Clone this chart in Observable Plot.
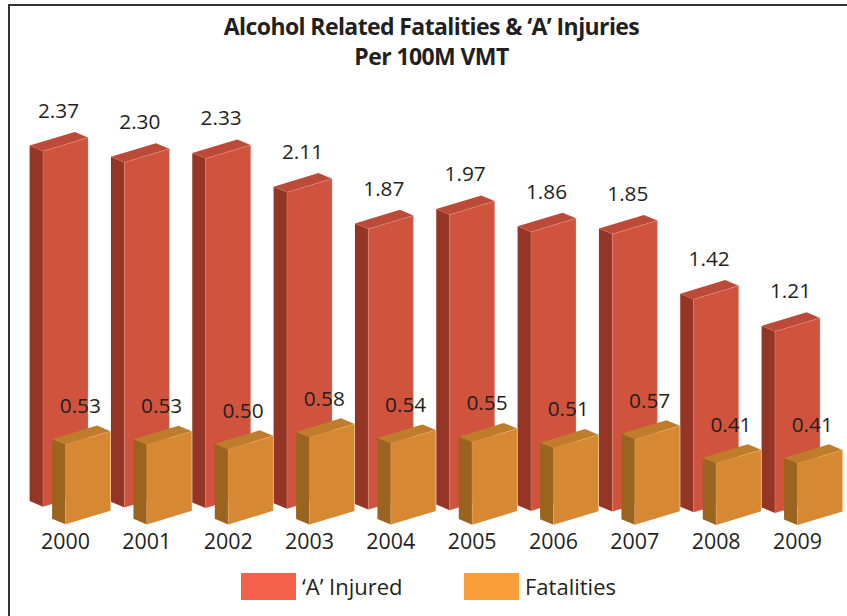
<!DOCTYPE html>
<html>
<head>
<meta charset="utf-8">
<script src="https://cdn.jsdelivr.net/npm/d3@7"></script>
<script src="https://cdn.jsdelivr.net/npm/@observablehq/plot@0.6"></script>
<style>
  html, body { margin: 0; padding: 0; background: #fff; }
  #page { position: relative; width: 847px; height: 616px; overflow: hidden; background: #fff;
          font-family: "Open Sans", sans-serif; color: #231f20; }
  #frame { position: absolute; left: 8px; top: 4px; width: 900px; height: 700px;
           border-left: 2.5px solid #333; border-top: 2.5px solid #333; }
  #title { position: relative; height: 78px; box-sizing: border-box; padding-top: 11px; padding-left: 16px;
           text-align: center; font-weight: 700; font-size: 23px; line-height: 30px; letter-spacing: -0.6px; }
  #plot { position: relative; height: 482px; }
  #plot svg { display: block; }
  #legend { position: absolute; left: 0; top: 573px; height: 27px; width: 847px; font-size: 22px; line-height: 27px; }
  #legend .sw { position: absolute; top: 0; width: 55px; height: 27px; }
  #legend .lb { position: absolute; top: 0; white-space: nowrap; letter-spacing: 0px; }
</style>
</head>
<body>
<div id="page">
  <div id="frame"></div>
  <div id="title">Alcohol Related Fatalities &amp; ‘A’ Injuries<br>Per 100M VMT</div>
  <div id="plot"></div>
  <div id="legend"></div>
</div>
<script>
const years = [2000, 2001, 2002, 2003, 2004, 2005, 2006, 2007, 2008, 2009];
const injured = [2.37, 2.30, 2.33, 2.11, 1.87, 1.97, 1.86, 1.85, 1.42, 1.21];
const fatalities = [0.53, 0.53, 0.50, 0.58, 0.54, 0.55, 0.51, 0.57, 0.41, 0.41];
const seriesNames = ["‘A’ Injured", "Fatalities"];

// oblique projection, pixels per data unit
const UX = 81.33, UY = 150;
const W = 847, H = 482, MB = 30;
const x0px = 65, y0px = 428.7;
const BAR_W = 45, SLOPE = 13.6, DEPTH_X = 13.4, DEPTH_Y = 5.6;

const styleRed = {left: -22.5, base: -0.5, drift: 0.7, front: "#d0533e", side: "#953525", top: "#bc4a38", edge: "#f0a898", labelDx: -7, labelDy: -40};
const styleOrange = {left: 0, base: 17.1, drift: 0.08, front: "#d68833", side: "#9a641f", top: "#bf7d2c", edge: "#f0c080", labelDx: 14.8, labelDy: -38.5};

const P = (year, dx, value, dy) => ({x: year + dx / UX, y: value - dy / UY});

function faces(values, s) {
  const out = {front: [], side: [], top: [], edge: [], labels: []};
  values.forEach((v, i) => {
    const yr = years[i], L = s.left, R = L + BAR_W, B = s.base + s.drift * i;
    const add = (list, pts) => pts.forEach(p => list.push({...p, id: yr}));
    add(out.front, [P(yr, L, 0, B), P(yr, R, 0, B - SLOPE), P(yr, R, v, B - SLOPE), P(yr, L, v, B)]);
    add(out.side, [P(yr, L - DEPTH_X, 0, B - DEPTH_Y), P(yr, L, 0, B), P(yr, L, v, B), P(yr, L - DEPTH_X, v, B - DEPTH_Y)]);
    add(out.top, [P(yr, L - DEPTH_X, v, B - DEPTH_Y), P(yr, L, v, B), P(yr, R, v, B - SLOPE), P(yr, R - DEPTH_X, v, B - SLOPE - DEPTH_Y)]);
    add(out.edge, [P(yr, L, 0, B), P(yr, L, v, B), P(yr, R, v, B - SLOPE), P(yr, R, 0, B - SLOPE)]);
    out.labels.push({...P(yr, 0, v, B + s.labelDy), text: v.toFixed(2)});
  });
  return out;
}

function boxMarks(values, s) {
  const f = faces(values, s);
  return [
    Plot.line(f.side, {x: "x", y: "y", z: "id", fill: s.side, stroke: "none"}),
    Plot.line(f.top, {x: "x", y: "y", z: "id", fill: s.top, stroke: "none"}),
    Plot.line(f.front, {x: "x", y: "y", z: "id", fill: s.front, stroke: "none"}),
    Plot.line(f.edge, {x: "x", y: "y", z: "id", stroke: s.edge, strokeWidth: 0.6, strokeOpacity: 0.5})
  ];
}
const labelMarks = (values, s) => Plot.text(faces(values, s).labels, {
  x: "x", y: "y", text: "text", dx: s.labelDx, fontSize: 20.8, fill: "#231f20", textAnchor: "middle"
});

const chart = Plot.plot({
  width: W, height: H,
  marginTop: 0, marginRight: 0, marginBottom: MB, marginLeft: 0,
  style: {fontFamily: "'Open Sans', sans-serif", background: "transparent", overflow: "visible", color: "#231f20"},
  x: {type: "linear", domain: [2000 - x0px / UX, 2000 + (W - x0px) / UX], range: [0, W]},
  y: {axis: null, domain: [(y0px - (H - MB)) / UY, y0px / UY], range: [H - MB, 0]},
  marks: [
    ...boxMarks(injured, styleRed),
    labelMarks(injured, styleRed),
    ...boxMarks(fatalities, styleOrange),
    labelMarks(fatalities, styleOrange),
    Plot.axisX(years, {tickSize: 0, tickPadding: 3, fontSize: 21.4, tickFormat: "d", label: null, fill: "#231f20"}),
  ]
});
document.getElementById("plot").append(chart);

const legendItems = [
  {name: seriesNames[0], color: "#f4614a", sw: 241, lb: 302},
  {name: seriesNames[1], color: "#fb9d3a", sw: 464, lb: 525}
];
const legend = document.getElementById("legend");
for (const it of legendItems) {
  const a = document.createElement("div"); a.className = "sw"; a.style.left = it.sw + "px"; a.style.background = it.color;
  const b = document.createElement("div"); b.className = "lb"; b.style.left = it.lb + "px"; b.textContent = it.name;
  legend.append(a, b);
}
</script>
</body>
</html>
